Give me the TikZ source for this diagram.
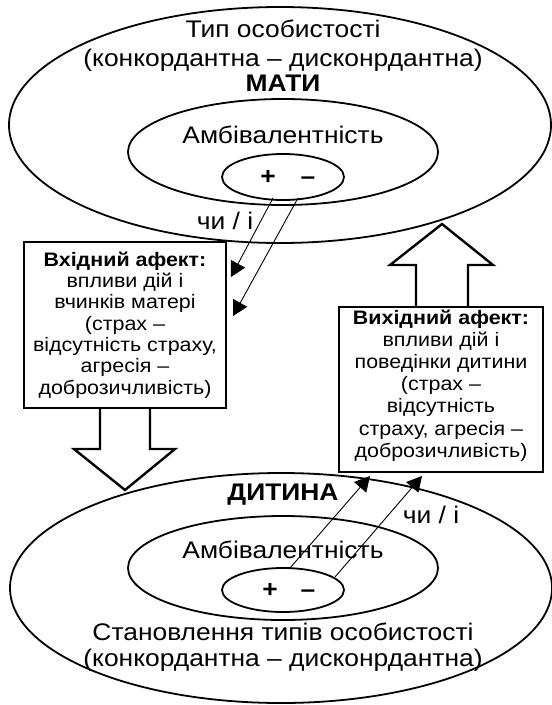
\documentclass[tikz,border=0pt]{standalone}
\usepackage{fontspec}
\setmainfont{Liberation Sans}[FakeStretch=1.1]
\usetikzlibrary{arrows.meta,shapes.geometric}
\begin{document}
\begin{tikzpicture}[x=1pt,y=-1pt,
  oval/.style={draw,ellipse,line width=1.8pt,inner sep=0pt},
  big/.style={font=\fontsize{24}{28}\selectfont, inner sep=0pt, anchor=base},
  bigb/.style={big, font=\fontsize{24}{28}\selectfont\bfseries},
  boxtxt/.style={draw, line width=2.6pt, fill=white, align=center,
    font=\fontsize{19.5}{21.3}\selectfont, inner sep=0pt,
    minimum width=202pt, minimum height=166pt},
  thinarrow/.style={line width=0.9pt, -{Triangle[length=15pt,width=16pt]}},
  blockarrow/.style={line width=2.4pt, fill=white, draw=black, line join=miter}]
\useasboundingbox (0,0) rectangle (552,705);

% ---------- MOTHER ----------
\node[oval, minimum width=542pt, minimum height=236pt] (mo) at (280,125) {};
\node[oval, minimum width=310pt, minimum height=106pt] (mm) at (283,152) {};
\node[oval, minimum width=122pt, minimum height=46pt] (mi) at (283,177) {};
\node[big] (t1) at (283,37) {Тип особистості};
\node[big] (t2) at (283,66) {(конкордантна – дисконрдантна)};
\node[bigb] (t3) at (283,91) {МАТИ};
\node[big] (t4) at (283,143) {Амбівалентність};
\node[bigb] (p1) at (268,184) {+};
\node[bigb] (n1) at (308,184) {–};
\node[big] (ci1) at (225,229) {чи / і};

% ---------- CHILD ----------
\node[oval, minimum width=542pt, minimum height=230pt] (co) at (281,588) {};
\node[oval, minimum width=310pt, minimum height=104pt] (cm) at (283,568) {};
\node[oval, minimum width=122pt, minimum height=44pt] (ci) at (283,590) {};
\node[bigb] (d1) at (283,500) {ДИТИНА};
\node[big] (d2) at (283,558) {Амбівалентність};
\node[bigb] (p2) at (270,597) {+};
\node[bigb] (n2) at (308,597) {–};
\node[big] (d3) at (283,640) {Становлення типів особистості};
\node[big] (d4) at (283,666) {(конкордантна – дисконрдантна)};
\node[big] (ci2) at (431,523) {чи / і};

% ---------- connector points ----------
\coordinate (a1s) at (273,198);
\coordinate (a1e) at (231,277);
\coordinate (a2s) at (298,198);
\coordinate (a2e) at (233,316);
\coordinate (b1s) at (290,568);
\coordinate (b1e) at (370,476);
\coordinate (b2s) at (335,577);
\coordinate (b2e) at (422,476);

\draw[thinarrow] (a1s) -- (a1e);
\draw[thinarrow] (a2s) -- (a2e);
\draw[thinarrow] (b1s) -- (b1e);
\draw[thinarrow] (b2s) -- (b2e);

% ---------- block arrows ----------
\filldraw[blockarrow] (100,408) -- (100,449) -- (74,449) -- (125,490)
  -- (175,449) -- (150,449) -- (150,408);
\filldraw[blockarrow] (416,307) -- (416,265) -- (390,265) -- (442,224)
  -- (493,265) -- (468,265) -- (468,307);

% ---------- boxes ----------
\node[boxtxt] (inbox) at (125,325) {\textbf{Вхідний афект:}\\впливи дій і\\вчинків матері\\(страх –\\відсутність страху,\\агресія –\\доброзичливість)};
\node[boxtxt, font=\fontsize{19.5}{22.2}\selectfont, minimum width=204pt, minimum height=165pt] (outbox) at (441,389.5) {\textbf{Вихідний афект:}\\впливи дій і\\поведінки дитини\\(страх –\\відсутність\\страху, агресія –\\доброзичливість)\rule[-12pt]{0pt}{12pt}};
\end{tikzpicture}
\end{document}
